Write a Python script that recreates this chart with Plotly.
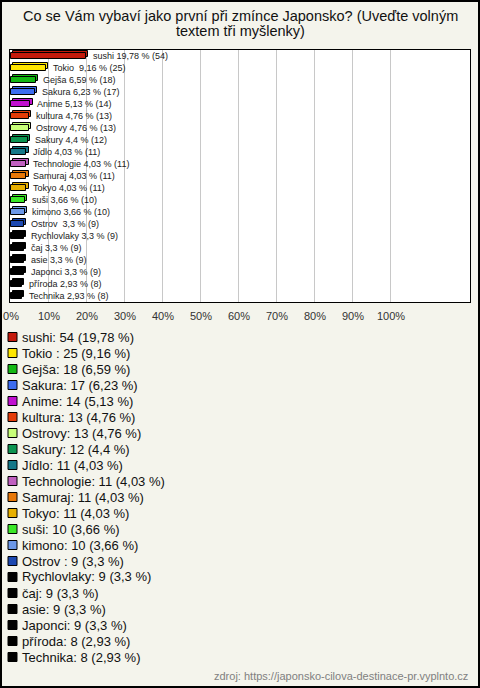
import plotly.graph_objects as go

# ---- data ----
categories = ["sushi", "Tokio ", "Gejša", "Sakura", "Anime", "kultura", "Ostrovy", "Sakury",
              "Jídlo", "Technologie", "Samuraj", "Tokyo", "suši", "kimono", "Ostrov ",
              "Rychlovlaky", "čaj", "asie", "Japonci", "příroda", "Technika"]
counts = [54, 25, 18, 17, 14, 13, 13, 12, 11, 11, 11, 11, 10, 10, 9, 9, 9, 9, 9, 8, 8]
percents = [19.78, 9.16, 6.59, 6.23, 5.13, 4.76, 4.76, 4.4, 4.03, 4.03, 4.03, 4.03,
            3.66, 3.66, 3.3, 3.3, 3.3, 3.3, 3.3, 2.93, 2.93]
colors = ["#c41a0c", "#ffe600", "#14b814", "#3c6cf0", "#c010d0", "#e43c08", "#c8ff78",
          "#0c9450", "#147888", "#c060c0", "#e87808", "#e8b000", "#3ce828", "#6c98e8",
          "#1c48b0", "#000000", "#000000", "#000000", "#000000", "#000000", "#000000"]
tick_vals = [0, 10, 20, 30, 40, 50, 60, 70, 80, 90, 100]
tick_text = ["0%", "10%", "20%", "30%", "40%", "50%", "60%", "70%", "80%", "90%", "100%"]
title_lines = ["Co se Vám vybaví jako první při zmínce Japonsko? (Uveďte volným",
               "textem tři myšlenky)"]
source_text = "zdroj: https://japonsko-cilova-destinace-pr.vyplnto.cz"

# ---- layout geometry ----
W, H = 480, 688
L, R, T, B = 10, 470, 50, 302
FONT = "Liberation Sans, Arial, sans-serif"
BG = "#f4f4ec"
NB = "\u00a0"


def fx(x):
    return (x - L) / (R - L)


def fy(y):
    return (B - y) / (B - T)


def fmt(p):
    return str(p).replace(".", ",")


n = len(categories)
pos = list(range(n))
bar_labels = [(NB * 3 + f"{c} {fmt(p)} % ({k})").replace("  ", " " + NB)
              for c, p, k in zip(categories, percents, counts)]
legend_labels = [f"{c}: {k} ({fmt(p)} %)" for c, p, k in zip(categories, percents, counts)]

fig = go.Figure()

# depth (3D side) of bars
fig.add_trace(go.Bar(
    y=pos, x=[p for p in percents], base=0.6, orientation="h",
    width=0.5, offset=-0.25 - 0.15,
    marker=dict(color=colors, line=dict(color="#000000", width=1)),
    hoverinfo="skip", showlegend=False,
))
# front face
fig.add_trace(go.Bar(
    y=pos, x=percents, orientation="h",
    width=0.5, offset=-0.25,
    marker=dict(color=colors, line=dict(color="#000000", width=1)),
    text=bar_labels, textposition="outside", cliponaxis=False, constraintext="none",
    textfont=dict(family=FONT, size=9, color="#222222"),
    showlegend=False,
))

shapes = []
annotations = []

# legend rows
for i, (lab, col) in enumerate(zip(legend_labels, colors)):
    yc = 337 + 16 * i
    shapes.append(dict(type="rect", xref="paper", yref="paper",
                       x0=fx(8), x1=fx(17), y0=fy(yc + 4.5), y1=fy(yc - 4.5),
                       fillcolor=col, line=dict(color="#000000", width=1)))
    annotations.append(dict(xref="paper", yref="paper", x=fx(19.5), y=fy(yc),
                            xanchor="left", yanchor="middle", showarrow=False,
                            text=lab, font=dict(family=FONT, size=13, color="#111111")))

# title
for j, line in enumerate(title_lines):
    annotations.append(dict(xref="paper", yref="paper", x=fx(240), y=fy(16 + 15 * j),
                            xanchor="center", yanchor="middle", showarrow=False,
                            text=line, font=dict(family=FONT, size=14.5, color="#111111")))

# source
annotations.append(dict(xref="paper", yref="paper", x=fx(470), y=fy(676),
                        xanchor="right", yanchor="middle", showarrow=False,
                        text=source_text, font=dict(family=FONT, size=11, color="#808080")))

# outer border
shapes.append(dict(type="rect", xref="paper", yref="paper",
                   x0=fx(1), x1=fx(479), y0=fy(687), y1=fy(1),
                   line=dict(color="#000000", width=2), fillcolor="rgba(0,0,0,0)"))

fig.update_layout(
    width=W, height=H,
    margin=dict(l=L, r=W - R, t=T, b=H - B, pad=0, autoexpand=False),
    paper_bgcolor=BG, plot_bgcolor="#ffffff",
    barmode="overlay", bargap=0,
    font=dict(family=FONT, color="#222222"),
    shapes=shapes, annotations=annotations,
    showlegend=False,
    xaxis=dict(range=[-0.26, 120.8], tickvals=tick_vals, ticktext=tick_text,
               showgrid=True, gridcolor="#c8c8c8", gridwidth=1, zeroline=False,
               showline=True, mirror=True, linecolor="#000000", linewidth=1,
               ticks="outside", ticklen=4, tickcolor=BG, automargin=False,
               tickfont=dict(family=FONT, size=11, color="#333333"), fixedrange=True),
    yaxis=dict(range=[n - 0.5, -0.5], showticklabels=False, showgrid=False,
               zeroline=False, showline=True, mirror=True, linecolor="#000000",
               linewidth=1, fixedrange=True, automargin=False),
)

fig.write_html("out.html", config={"displayModeBar": False},
               post_script="document.body.style.margin='0';")
